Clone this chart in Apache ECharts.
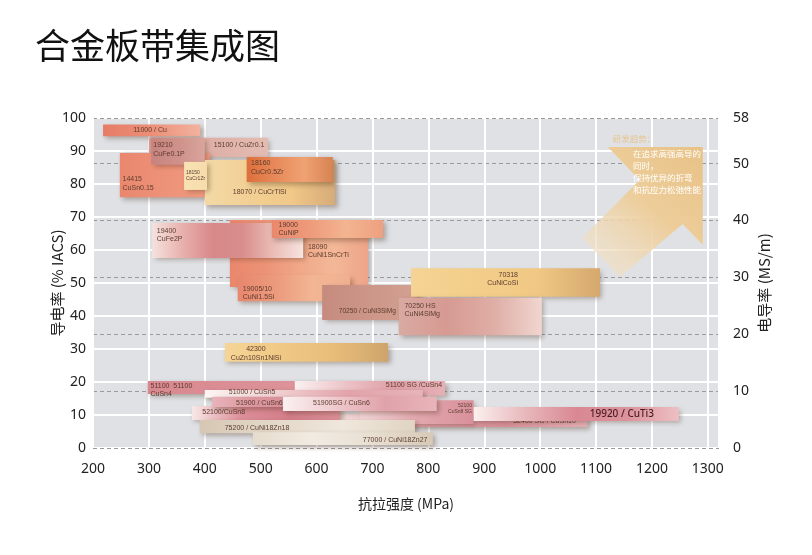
<!DOCTYPE html>
<html><head><meta charset="utf-8">
<script src="https://cdn.jsdelivr.net/npm/echarts@6/dist/echarts.min.js"></script>
<style>html,body{margin:0;padding:0;background:#fff}#c{width:812px;height:555px}</style>
</head><body><div id="c"></div>
<script>
// ---- data (tensile strength MPa, conductivity %IACS) ----
const alloyLabels = [
  '11000 / Cu', '15100 / CuZr0.1', '14415\nCuSn0.15', '19210\nCuFe0.1P', '18070 / CuCrTiSi',
  '18150\nCuCr1Zr', '18160\nCuCr0.5Zr', '18090\nCuNi1SnCrTi', '19400\nCuFe2P', '19000\nCuNiP',
  '19005/10\nCuNi1.5Si', '70250 / CuNi3SiMg', '70318\nCuNiCoSi', '70250 HS\nCuNi4SiMg', '42300\nCuZn10Sn1NiSi',
  '51100  51100\nCuSn4', '51100 SG /CuSn4', '51000 / CuSn5', '52400 SG / CuSn10', '52100\nCuSn8 SG',
  '52100/CuSn8', '51900 / CuSn6', '51900SG / CuSn6', '19920 / CuTi3', '75200 / CuNi18Zn18', '77000 / CuNi18Zn27'
];
const tensileMin = [218, 300, 248, 304, 400, 363, 475, 445, 306, 520, 459, 610, 769, 747, 436, 298, 561, 400, 636, 678, 377, 413, 540, 881, 391, 486];
const tensileMax = [392, 513, 409, 400, 633, 404, 629, 692, 576, 719, 660, 785, 1107, 1003, 728, 785, 830, 790, 1085, 881, 642, 552, 815, 1248, 776, 808];
const condMin    = [94.5, 88.2, 76, 85.8, 73.6, 78.2, 80.6, 48.8, 57.6, 63.6, 44.5, 38.8, 45.8, 34.2, 26.1, 16.4, 15.8, 15.2, 6.4, 7.3, 8.5, 12.4, 11.2, 8.2, 4.5, 0.9];
const condMax    = [98, 94, 89.4, 94, 87.3, 86.7, 88.2, 69.1, 68.2, 69.1, 52.4, 49.4, 54.5, 45.5, 31.8, 20.3, 20.3, 17.6, 10.3, 14.5, 12.7, 15.5, 15.5, 12.4, 8.5, 4.8];

// trend arrow outline (MPa, %IACS)
const arrowX = [1121, 1291, 1291, 1255, 1143, 1075, 1178];
const arrowY = [91.2, 91.2, 61.5, 67.9, 51.8, 63.6, 81.2];
const arrowTitle = '研发趋势：';
const arrowText = '在追求高强高导的\n同时，\n保持优异的折弯\n和抗应力松弛性能';
const arrowTitleAt = [1130, 93.6];
const arrowTextAt = [1166, 91.0];

const xTickLabels = ['200','300','400','500','600','700','800','900','1000','1100','1200','1300'];
const leftTickLabels = ['0','10','20','30','40','50','60','70','80','90','100'];
const rightTickLabels = ['0','10','20','30','40','50','58'];

// ---- styles ----
const fills = [
  ['#e67c66','#ec8f78','#f2b39f'],
  ['#d49a92','#deafa6','#e3bcb2'],
  ['#ea876e','#ed9278','#ef9a80'],
  ['#c7837e','#cf918a','#d8a59c'],
  ['#f3d9a6','#f2d095','#f0c888','#d6ab78'],
  ['#f8e2b4','#f6dcaa'],
  ['#dd6f3c','#e8895a','#f0a272','#d78354'],
  ['#e9876c','#ec9276','#f0a888','#f3b898','#eea488'],
  ['#f5e2de','#e8b0ac','#d8888a','#d98e8c','#ebbcb6','#f6e4e0'],
  ['#e9886c','#ee9a7a','#f3b490','#eea080'],
  ['#e8876e','#ec9a7c','#f2b694','#f0b090'],
  ['#c58b7e','#cc9688','#d4a292'],
  ['#f5d394','#f3ce8a','#f0c884','#d5a86e'],
  ['#d9aaa2','#d69a92','#dfaea6','#f0d6cf'],
  ['#f5d596','#f0c985','#e8bd7a','#cfa46c'],
  ['#d98890','#dc9298','#e2a4aa'],
  ['#fbf1f1','#ecc4c8','#df9ea6','#e6b0b6'],
  ['#fdf5f4','#f0d0d2','#e2a2aa','#e8b4ba'],
  ['#f6e0e0','#e0a0a8','#d88e98','#e6b0b6'],
  ['#f3d6d8','#e3a8ae','#d8909a'],
  ['#f7e8e8','#dc8e98','#d47e8a','#dc9098'],
  ['#e9b4ba','#dc98a0','#d68e98'],
  ['#fbf0f0','#efcace','#e0a2aa','#e8b4ba'],
  ['#fbf0ee','#e8b8bc','#d98892','#dc939b','#ecc0c4'],
  ['#d6c7b3','#e3d8c8','#efe7dc','#e0d4c2'],
  ['#e6dccd','#f1ebe2','#e8dfd2','#d6c9b5']
];
// [fraction x, fraction y, align, verticalAlign, fontSize]
const labelPlace = [
  [0.31,0.5,'left','middle',7], [0.97,0.37,'right','middle',7], [0.03,0.5,'left','top',7],
  [0.04,0.12,'left','top',7], [0.215,0.71,'left','middle',7], [0.08,0.25,'left','top',5],
  [0.05,0.08,'left','top',7], [0.565,0.34,'left','top',7], [0.03,0.1,'left','top',7],
  [0.06,0.02,'left','top',7], [0.045,0.36,'left','top',7], [0.17,0.74,'left','middle',6.6],
  [0.566,0.08,'right','top',7], [0.04,0.1,'left','top',7], [0.19,0.1,'center','top',7],
  [0.01,0.05,'left','top',7], [0.98,0.3,'right','middle',7], [0.11,0.3,'left','middle',7],
  [0.953,0.55,'right','middle',7], [0.985,0.08,'right','top',5], [0.07,0.45,'left','middle',7],
  [0.91,0.6,'right','middle',7], [0.195,0.45,'left','middle',7], [0.566,0.5,'left','middle',10],
  [0.116,0.6,'left','middle',7], [0.97,0.65,'right','middle',7]
];

function grad(stops) {
  return new echarts.graphic.LinearGradient(0, 0, 1, 0,
    stops.map((c, i) => ({ offset: stops.length === 1 ? 0 : i / (stops.length - 1), color: c })));
}

const blockData = alloyLabels.map((n, i) => [tensileMin[i], tensileMax[i], condMin[i], condMax[i], i]);

const chart = echarts.init(document.getElementById('c'));
const axisFont = { fontFamily: 'Noto Sans, Noto Sans CJK SC, sans-serif', fontSize: 14, color: '#222' };

chart.setOption({
  animation: false,
  backgroundColor: '#fff',
  title: {
    text: '合金板带集成图', left: 30, top: 23,
    textStyle: { fontFamily: 'Noto Sans CJK SC', fontSize: 35, fontWeight: 'normal', color: '#111' }
  },
  grid: { left: 93, right: 93, top: 118, bottom: 107, show: true, backgroundColor: '#dfe1e5', borderWidth: 0 },
  xAxis: {
    type: 'value', min: 200, max: 1320, interval: 100,
    name: '抗拉强度 (MPa)', nameLocation: 'middle', nameGap: 49, nameMoveOverlap: false,
    nameTextStyle: { fontFamily: 'Noto Sans CJK SC', fontSize: 14, color: '#222' },
    axisLine: { show: false }, axisTick: { show: false },
    axisLabel: Object.assign({ margin: 14, showMaxLabel: false,
      formatter: v => { const k = xTickLabels.indexOf(String(v)); return k >= 0 ? xTickLabels[k] : ''; } }, axisFont),
    splitLine: { show: true, lineStyle: { color: '#ffffff', width: 2 } }
  },
  yAxis: [
    {
      type: 'value', min: 0, max: 100, interval: 10, position: 'left',
      name: '导电率 (% IACS)', nameLocation: 'middle', nameGap: 28, nameMoveOverlap: false,
      nameTextStyle: { fontFamily: 'Noto Sans CJK SC', fontSize: 15, color: '#222' },
      axisLine: { show: false }, axisTick: { show: false },
      axisLabel: Object.assign({ margin: 7, formatter: v => leftTickLabels[Math.round(v / 10)] || '' }, axisFont),
      splitLine: { show: true, lineStyle: { color: '#ffffff', width: 2 } }
    },
    {
      type: 'value', min: 0, max: 58, interval: 10, position: 'right',
      name: '电导率 (MS/m)', nameLocation: 'middle', nameGap: 38, nameMoveOverlap: false,
      nameTextStyle: { fontFamily: 'Noto Sans CJK SC', fontSize: 15, color: '#222' },
      axisLine: { show: false }, axisTick: { show: false },
      axisLabel: Object.assign({ margin: 14, formatter: v => rightTickLabels.indexOf(String(v)) >= 0 ? String(v) : '' }, axisFont),
      splitLine: { show: true, lineStyle: { color: '#9a9a9a', width: 1, type: [4, 3] } }
    }
  ],
  series: [
    {
      type: 'custom', z: 1, silent: true,
      data: [[0]],
      renderItem: (params, api) => {
        const pts = arrowX.map((x, i) => api.coord([x, arrowY[i]]));
        const t1 = api.coord(arrowTitleAt);
        const t2 = api.coord(arrowTextAt);
        return {
          type: 'group',
          children: [
            { type: 'polygon', shape: { points: pts },
              style: { fill: new echarts.graphic.LinearGradient(1, 0, 0, 1, [
                { offset: 0, color: '#e8c286' }, { offset: 0.45, color: '#edcd9a' },
                { offset: 1, color: 'rgba(242,230,212,0.55)' }]) } },
            { type: 'text', x: t1[0], y: t1[1],
              style: { text: arrowTitle, fontSize: 8.5, fill: '#e9c48c', fontFamily: 'Noto Sans CJK SC', verticalAlign: 'middle' } },
            { type: 'text', x: t2[0], y: t2[1],
              style: { text: arrowText, fontSize: 8.5, lineHeight: 12, fill: '#ffffff', fontFamily: 'Noto Sans CJK SC', verticalAlign: 'top' } }
          ]
        };
      }
    },
    {
      type: 'custom', z: 2, silent: true,
      data: blockData,
      renderItem: (params, api) => {
        const i = api.value(4);
        const tl = api.coord([api.value(0), api.value(3)]);
        const br = api.coord([api.value(1), api.value(2)]);
        const w = br[0] - tl[0], h = br[1] - tl[1];
        const lp = labelPlace[i];
        const big = lp[4] > 9;
        return {
          type: 'group',
          children: [
            { type: 'rect', shape: { x: tl[0], y: tl[1], width: w, height: h },
              style: { fill: grad(fills[i]), shadowBlur: 5, shadowOffsetX: 2.5, shadowOffsetY: 2.5, shadowColor: 'rgba(70,40,20,0.35)' } },
            { type: 'text', x: tl[0] + lp[0] * w, y: tl[1] + lp[1] * h,
              style: { text: alloyLabels[i], fontSize: lp[4], lineHeight: lp[4] + 1.5,
                fontFamily: big ? 'Noto Sans, sans-serif' : 'Liberation Sans, Arial, sans-serif', fontWeight: big ? 500 : 'normal',
                fill: big ? '#4a1c22' : '#5c3c2e', align: lp[2], verticalAlign: lp[3] } }
          ]
        };
      }
    }
  ]
});
</script>
</body></html>
